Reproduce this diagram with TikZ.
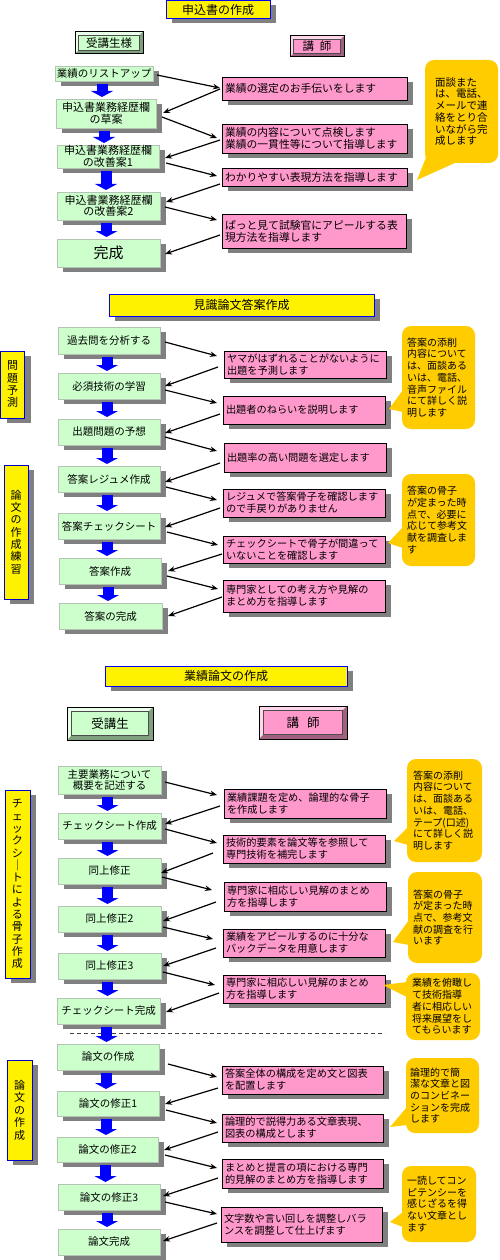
\documentclass[tikz,border=0pt]{standalone}
\usepackage{fontspec}
\setmainfont{Noto Sans CJK JP}
\usetikzlibrary{shadows,arrows.meta,calc}
\definecolor{gface}{HTML}{CCFFCC}
\definecolor{gline}{HTML}{B4C4B4}
\definecolor{pface}{HTML}{FF99CC}
\definecolor{shgray}{HTML}{808080}
\definecolor{cgold}{HTML}{FFCC00}
\definecolor{glight}{HTML}{EAFFEA}
\definecolor{gdark}{HTML}{7F9F7F}
\definecolor{plight}{HTML}{FFD6EA}
\definecolor{pdark}{HTML}{A0607F}
\definecolor{bblue}{HTML}{0000FF}
\definecolor{sblue}{HTML}{0000CC}
\tikzset{
 shad/.style={drop shadow={opacity=1,fill=shgray,shadow xshift=6pt,shadow yshift=-5pt}},
 gbox/.style={shad, draw=gline, fill=gface, line width=0.8pt, inner sep=0pt, outer sep=0pt, align=center, font=\fontsize{10.5}{11.5}\selectfont},
 pbox/.style={shad, draw=black, fill=pface, line width=0.8pt, inner xsep=3pt, inner ysep=0pt, outer sep=0pt, align=left, font=\fontsize{10.2}{12}\selectfont},
 tbox/.style={shad, draw=blue, fill=yellow, line width=0.8pt, inner sep=0pt, outer sep=0pt, font=\fontsize{12}{14}\selectfont},
 sbox/.style={shad, draw=sblue, fill=yellow, line width=0.9pt, inner sep=0pt, outer sep=0pt, align=center, font=\fontsize{11}{12.3}\selectfont},
 cbox/.style={fill=cgold, rounded corners=9pt, inner ysep=0pt, outer sep=0pt, align=left, font=\fontsize{10}{11.7}\selectfont},
 bvbox/.style={draw=black, line width=1pt, inner sep=0pt, outer sep=0pt},
 barrow/.style={draw=bblue, line width=11pt, -{Triangle[width=22pt,length=6pt]}},
 karrow/.style={draw=black, line width=1.2pt, -{Stealth[length=7pt,width=5.5pt]}},
 dline/.style={draw=black!75, line width=1pt, dash pattern=on 4pt off 3pt},
}
\newcommand\mybevel[4]{%
 \fill[#2] (#1.north west) -- (#1.north east) -- ([shift={(-#4pt,-#4pt)}]#1.north east) -- ([shift={(#4pt,-#4pt)}]#1.north west) -- cycle;
 \fill[#2] (#1.north west) -- ([shift={(#4pt,-#4pt)}]#1.north west) -- ([shift={(#4pt,#4pt)}]#1.south west) -- (#1.south west) -- cycle;
 \fill[#3] (#1.north east) -- ([shift={(-#4pt,-#4pt)}]#1.north east) -- ([shift={(-#4pt,#4pt)}]#1.south east) -- (#1.south east) -- cycle;
 \fill[#3] (#1.south west) -- ([shift={(#4pt,#4pt)}]#1.south west) -- ([shift={(-#4pt,#4pt)}]#1.south east) -- (#1.south east) -- cycle;
 \draw[line width=0.6pt,black!70] ([shift={(#4pt,-#4pt)}]#1.north west) rectangle ([shift={(-#4pt,#4pt)}]#1.south east);
 \draw[line width=1pt] (#1.north west) rectangle (#1.south east);}
\newcommand\bluedown[2]{\draw[barrow] ($(#1.south)+(-2,3)$) -- ($(#1.south |- #2.north)+(-2,-2)$);}
\newcommand\callptr[4]{\fill[cgold] ([shift={(1pt,-#2pt)}]#1.north west) -- (#4) -- ([shift={(1pt,-#3pt)}]#1.north west) -- cycle;}
\begin{document}
\begin{tikzpicture}[x=1pt,y=-1pt]
\useasboundingbox (0,0) rectangle (499,1260);
\fill[white] (0,0) rectangle (499,1260);

%% ===== Section 1 =====
\node[tbox, minimum width=104pt, minimum height=18pt] (T1) at (218,9.5) {申込書の作成};
\node[bvbox, fill=gface, minimum width=68pt, minimum height=22pt, font=\fontsize{11.5}{13}\selectfont] (S1a) at (109,43) {受講生様};
\mybevel{S1a}{glight}{gdark}{3.5}
\node[bvbox, fill=pface, minimum width=54pt, minimum height=21pt, font=\fontsize{11.5}{13}\selectfont] (S1b) at (317,46.5) {講\hspace{6pt}師};
\mybevel{S1b}{plight}{pdark}{3.5}

\node[gbox, minimum width=98pt, minimum height=15pt] (L1) at (104,73.5) {業績のリストアップ};
\node[gbox, minimum width=100pt, minimum height=29pt, font=\fontsize{11}{11.5}\selectfont] (L2) at (106,113.5) {申込書業務経歴欄\\の草案};
\node[gbox, minimum width=102pt, minimum height=23pt, font=\fontsize{11}{11.5}\selectfont] (L3) at (108,156.5) {申込書業務経歴欄\\の改善案1};
\node[gbox, minimum width=103pt, minimum height=28pt, font=\fontsize{11}{11.5}\selectfont] (L4) at (108.5,206) {申込書業務経歴欄\\の改善案2};
\node[gbox, minimum width=103pt, minimum height=28pt, font=\fontsize{15}{16}\selectfont] (L5) at (108.5,253) {完成};

\node[pbox, text width=179pt, minimum height=23pt, font=\fontsize{10.8}{12}\selectfont] (R1) at (314.5,88.5) {業績の選定のお手伝いをします};
\node[pbox, text width=179pt, minimum height=29pt, font=\fontsize{10.8}{12}\selectfont] (R2) at (314.5,138.5) {業績の内容について点検します\\業績の一貫性等について指導します};
\node[pbox, text width=179pt, minimum height=18pt, font=\fontsize{10.8}{12}\selectfont] (R3) at (314.5,177) {わかりやすい表現方法を指導します};
\node[pbox, text width=178pt, minimum height=34pt, font=\fontsize{10.8}{12}\selectfont] (R4) at (314,231) {ぱっと見て試験官にアピールする表\\現方法を指導します};

\node[cbox, text width=53pt, inner xsep=10pt, minimum height=103pt, font=\fontsize{10.5}{11.7}\selectfont] (C1) at (461.5,111.5) {面談また\\は、電話、\\メールで連\\絡をとり合\\いながら完\\成します};
\coordinate (C1t) at (417,180);
\fill[cgold] ([shift={(2pt,8pt)}]C1.south west) -- (C1t) -- ([shift={(32pt,1pt)}]C1.south west) -- cycle;

\bluedown{L1}{L2}
\bluedown{L2}{L3}
\bluedown{L3}{L4}
\bluedown{L4}{L5}

\draw[karrow] ([shift={(4,1.5)}]L1.east) -- ([shift={(-2,-0.5)}]R1.west);
\draw[karrow] ([shift={(-2,0.5)}]R1.west) -- ([shift={(7,-0.5)}]L2.east);
\draw[karrow] ([shift={(6,3.5)}]L2.east) -- ([shift={(-5,-0.5)}]R2.west);
\draw[karrow] ([shift={(-2,1.5)}]R2.west) -- ([shift={(6,1.5)}]L3.east);
\draw[karrow] ([shift={(7,6.5)}]L3.east) -- ([shift={(-5,-1)}]R3.west);
\draw[karrow] ([shift={(-2,7)}]R3.west) -- ([shift={(6,-4)}]L4.east);
\draw[karrow] ([shift={(5,1)}]L4.east) -- ([shift={(-5,-11)}]R4.west);
\draw[karrow] ([shift={(-2,4)}]R4.west) -- ([shift={(5,1)}]L5.east);

%% ===== Section 2 =====
\node[tbox, minimum width=265pt, minimum height=22pt] (T2) at (241.5,305) {見識論文答案作成};
\node[sbox, minimum width=24pt, minimum height=67pt] (P1) at (12.5,384.5) {問\\題\\予\\測};
\node[sbox, minimum width=24pt, minimum height=134pt] (P2) at (16,532) {論\\文\\の\\作\\成\\練\\習};

\node[gbox, minimum width=102pt, minimum height=27pt] (M1) at (109,340.5) {過去問を分析する};
\node[gbox, minimum width=102pt, minimum height=26pt] (M2) at (109,386) {必須技術の学習};
\node[gbox, minimum width=102pt, minimum height=26pt] (M3) at (109,432) {出題問題の予想};
\node[gbox, minimum width=102pt, minimum height=26pt] (M4) at (109,479) {答案レジュメ作成};
\node[gbox, minimum width=102pt, minimum height=26pt] (M5) at (109,526) {答案チェックシート};
\node[gbox, minimum width=102pt, minimum height=26pt] (M6) at (110,571) {答案作成};
\node[gbox, minimum width=103pt, minimum height=26pt] (M7) at (110.5,616) {答案の完成};

\node[pbox, text width=156pt, minimum height=27pt] (Q1) at (305,364.5) {ヤマがはずれることがないように\\出題を予測します};
\node[pbox, text width=156pt, minimum height=28pt] (Q2) at (304,410) {出題者のねらいを説明します};
\node[pbox, text width=156pt, minimum height=29pt] (Q3) at (305,457.5) {出題率の高い問題を選定します};
\node[pbox, text width=156pt, minimum height=28pt] (Q4) at (304,503) {レジュメで答案骨子を確認します\\ので手戻りがありません};
\node[pbox, text width=156pt, minimum height=27pt] (Q5) at (304,549.5) {チェックシートで骨子が間違って\\いないことを確認します};
\node[pbox, text width=156pt, minimum height=32pt] (Q6) at (304,596) {専門家としての考え方や見解の\\まとめ方を指導します};

\node[cbox, text width=63pt, inner xsep=5pt, minimum height=103pt] (D1) at (438.5,377.5) {答案の添削\\内容について\\は、面談ある\\いは、電話、\\音声ファイル\\にて詳しく説\\明します};
\coordinate (D1t) at (389,409);
\callptr{D1}{64}{86}{D1t}
\node[cbox, text width=63pt, inner xsep=5pt, minimum height=92pt] (D2) at (438.5,520) {答案の骨子\\が定まった時\\点で、必要に\\応じて参考文\\献を調査しま\\す};
\coordinate (D2t) at (388,543);
\callptr{D2}{53}{74}{D2t}

\bluedown{M1}{M2}
\bluedown{M2}{M3}
\bluedown{M3}{M4}
\bluedown{M4}{M5}
\bluedown{M5}{M6}
\bluedown{M6}{M7}

\draw[karrow] ([shift={(5,1.5)}]M1.east) -- ([shift={(-7,-8.5)}]Q1.west);
\draw[karrow] ([shift={(-6,2.5)}]Q1.west) -- ([shift={(5,0)}]M2.east);
\draw[karrow] ([shift={(5,4)}]M2.east) -- ([shift={(-6,-7)}]Q2.west);
\draw[karrow] ([shift={(-3,4)}]Q2.west) -- ([shift={(5,1)}]M3.east);
\draw[karrow] ([shift={(5,5)}]M3.east) -- ([shift={(-7,-6.5)}]Q3.west);
\draw[karrow] ([shift={(-4,5.5)}]Q3.west) -- ([shift={(5,3)}]M4.east);
\draw[karrow] ([shift={(6,8)}]M4.east) -- ([shift={(-6,-3)}]Q4.west);
\draw[karrow] ([shift={(-3,5)}]Q4.west) -- ([shift={(5,1)}]M5.east);
\draw[karrow] ([shift={(7,6)}]M5.east) -- ([shift={(-5,-4.5)}]Q5.west);
\draw[karrow] ([shift={(-1,4.5)}]Q5.west) -- ([shift={(7,0)}]M6.east);
\draw[karrow] ([shift={(6,5)}]M6.east) -- ([shift={(-5,-7)}]Q6.west);
\draw[karrow] ([shift={(-1,1)}]Q6.west) -- ([shift={(6,0)}]M7.east);

%% ===== Section 3 =====
\node[tbox, minimum width=242pt, minimum height=20pt] (T3) at (226,676) {業績論文の作成};
\node[bvbox, fill=gface, minimum width=86pt, minimum height=33pt, font=\fontsize{12.5}{14}\selectfont] (S3a) at (110,723.5) {受講生};
\mybevel{S3a}{glight}{gdark}{4.5}
\node[bvbox, fill=pface, minimum width=88pt, minimum height=33pt, font=\fontsize{12.5}{14}\selectfont] (S3b) at (303,722.5) {講\hspace{8pt}師};
\mybevel{S3b}{plight}{pdark}{4.5}

\node[sbox, minimum width=25pt, minimum height=188pt] (V1) at (17.5,884) {チ\\ェ\\ッ\\ク\\シ\\｜\\ト\\に\\よ\\る\\骨\\子\\作\\成};
\node[sbox, minimum width=25pt, minimum height=100pt, font=\fontsize{11}{12.5}\selectfont] (V2) at (19.5,1110) {論\\文\\の\\作\\成};

\node[gbox, minimum width=103pt, minimum height=28pt] (N1) at (109.5,780) {主要業務について\\概要を記述する};
\node[gbox, minimum width=103pt, minimum height=26pt] (N2) at (109.5,826) {チェックシート作成};
\node[gbox, minimum width=103pt, minimum height=26pt] (N3) at (109.5,871) {同上修正};
\node[gbox, minimum width=103pt, minimum height=26pt] (N4) at (109.5,919) {同上修正2};
\node[gbox, minimum width=103pt, minimum height=26pt] (N5) at (109.5,966) {同上修正3};
\node[gbox, minimum width=103pt, minimum height=26pt] (N6) at (108.5,1011) {チェックシート完成};
\coordinate (DLa) at (70,1033);
\coordinate (DLb) at (385,1033);
\node[gbox, minimum width=102pt, minimum height=26pt] (N7) at (108,1057) {論文の作成};
\node[gbox, minimum width=102pt, minimum height=25pt] (N8) at (108,1103.5) {論文の修正1};
\node[gbox, minimum width=101pt, minimum height=25pt] (N9) at (107.5,1149.5) {論文の修正2};
\node[gbox, minimum width=102pt, minimum height=26pt] (N10) at (109,1197) {論文の修正3};
\node[gbox, minimum width=102pt, minimum height=26pt] (N11) at (109,1242) {論文完成};

\node[pbox, text width=156pt, minimum height=29pt] (U1) at (305,803.5) {業績課題を定め、論理的な骨子\\を作成します};
\node[pbox, text width=156pt, minimum height=28pt] (U2) at (304,849) {技術的要素を論文等を参照して\\専門技術を補完します};
\node[pbox, text width=156pt, minimum height=29pt] (U3) at (305,896.5) {専門家に相応しい見解のまとめ\\方を指導します};
\node[pbox, text width=156pt, minimum height=28pt] (U4) at (304,943) {業績をアピールするのに十分な\\バックデータを用意します};
\node[pbox, text width=156pt, minimum height=28pt] (U5) at (304,989) {専門家に相応しい見解のまとめ\\方を指導します};
\node[pbox, text width=155pt, minimum height=28pt] (U6) at (302.5,1080) {答案全体の構成を定め文と図表\\を配置します};
\node[pbox, text width=155pt, minimum height=28pt] (U7) at (302.5,1128) {論理的で説得力ある文章表現、\\図表の構成とします};
\node[pbox, text width=155pt, minimum height=29pt] (U8) at (302.5,1173.5) {まとめと提言の項における専門\\的見解のまとめ方を指導します};
\node[pbox, text width=155pt, minimum height=35pt] (U9) at (301.5,1224.5) {文字数や言い回しを調整しバラ\\ンスを調整して仕上げます};

\node[cbox, text width=63pt, inner xsep=6pt, minimum height=103pt] (E1) at (444.5,810.5) {答案の添削\\内容について\\は、面談ある\\いは、電話、\\テープ(口述)\\にて詳しく説\\明します};
\coordinate (E1t) at (394,841);
\callptr{E1}{68}{86}{E1t}
\node[cbox, text width=64pt, inner xsep=5pt, minimum height=91pt] (E2) at (445,917.5) {答案の骨子\\が定まった時\\点で、参考文\\献の調査を行\\います};
\coordinate (E2t) at (393,942);
\callptr{E2}{48}{73}{E2t}
\node[cbox, text width=62pt, inner xsep=6pt, minimum height=67pt] (E3) at (443,1006.5) {業績を俯瞰し\\て技術指導\\者に相応しい\\将来展望をし\\てもらいます};
\coordinate (E3t) at (383,985);
\callptr{E3}{9}{24}{E3t}
\node[cbox, text width=65pt, inner xsep=4pt, minimum height=75pt] (E4) at (442.5,1095.5) {論理的で簡\\潔な文章と図\\のコンビネー\\ションを完成\\します};
\coordinate (E4t) at (390,1127);
\callptr{E4}{49}{67}{E4t}
\node[cbox, text width=64pt, inner xsep=5pt, minimum height=76pt] (E5) at (439,1204) {一読してコン\\ピテンシーを\\感じざるを得\\ない文章とし\\ます};
\coordinate (E5t) at (390,1222);
\callptr{E5}{46}{61}{E5t}

\bluedown{N1}{N2}
\bluedown{N2}{N3}
\bluedown{N3}{N4}
\bluedown{N4}{N5}
\bluedown{N5}{N6}
\draw[dline] (DLa) -- (DLb);
\bluedown{N6}{N7}
\bluedown{N7}{N8}
\bluedown{N8}{N9}
\bluedown{N9}{N10}
\bluedown{N10}{N11}

\draw[karrow] ([shift={(4,2)}]N1.east) -- ([shift={(-7,-8.5)}]U1.west);
\draw[karrow] ([shift={(-4,2.5)}]U1.west) -- ([shift={(4,-2)}]N2.east);
\draw[karrow] ([shift={(4,3)}]N2.east) -- ([shift={(-6,-6)}]U2.west);
\draw[karrow] ([shift={(-10,4)}]U2.west) -- ([shift={(0,2)}]N3.east);
\draw[karrow] ([shift={(1,6)}]N3.east) -- ([shift={(-12,-6.5)}]U3.west);
\draw[karrow] ([shift={(-8,5.5)}]U3.west) -- ([shift={(2,2)}]N4.east);
\draw[karrow] ([shift={(2,8)}]N4.east) -- ([shift={(-10,-4)}]U4.west);
\draw[karrow] ([shift={(-7,5)}]U4.west) -- ([shift={(2,0)}]N5.east);
\draw[karrow] ([shift={(2,6)}]N5.east) -- ([shift={(-8,-4)}]U5.west);
\draw[karrow] ([shift={(-4,4)}]U5.west) -- ([shift={(6,1)}]N6.east);
\draw[karrow] ([shift={(9,7)}]N7.east) -- ([shift={(-5,-3)}]U6.west);
\draw[karrow] ([shift={(-4,8)}]U6.west) -- ([shift={(6,0.5)}]N8.east);
\draw[karrow] ([shift={(7,6.5)}]N8.east) -- ([shift={(-5,-5)}]U7.west);
\draw[karrow] ([shift={(-4,4)}]U7.west) -- ([shift={(6,0.5)}]N9.east);
\draw[karrow] ([shift={(7,5.5)}]N9.east) -- ([shift={(-5,-5.5)}]U8.west);
\draw[karrow] ([shift={(-4,4.5)}]U8.west) -- ([shift={(3,-1)}]N10.east);
\draw[karrow] ([shift={(5,5)}]N10.east) -- ([shift={(-4,-10.5)}]U9.west);
\draw[karrow] ([shift={(-4,-1.5)}]U9.west) -- ([shift={(3,-1)}]N11.east);
\end{tikzpicture}
\end{document}
